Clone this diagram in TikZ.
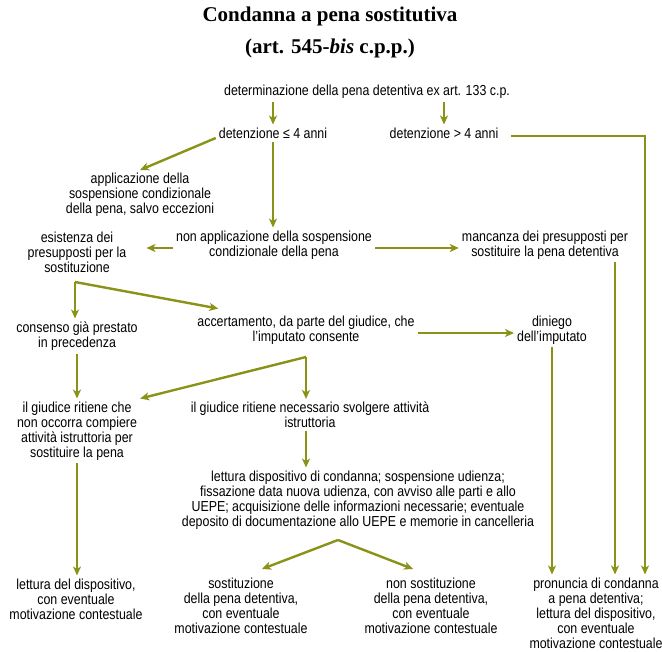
\documentclass[tikz,border=0pt]{standalone}
\usepackage{fontspec}
\setmainfont{Liberation Sans}[FakeStretch=0.855]
\newfontfamily\titlefont{Liberation Serif}
\usetikzlibrary{arrows.meta,calc}
\definecolor{ArrowGreen}{RGB}{138,146,24}

\begin{document}
\begin{tikzpicture}[
  txt/.style={align=center,inner sep=3bp,font=\fontsize{14.5bp}{15bp}\selectfont},
  ttl/.style={inner sep=0bp,font=\titlefont\bfseries\fontsize{21bp}{23bp}\selectfont},
  arr/.style={-{Stealth[length=9bp,width=8bp,inset=2.5bp]},line width=2.4bp,draw=ArrowGreen}]
\useasboundingbox (0bp,0bp) rectangle (662bp,-652bp);

\node (T1) at (330bp,-16bp)[ttl] {Condanna a pena sostitutiva};
\node (T2) at (330bp,-48bp)[ttl] {(art. 545-\textit{bis} c.p.p.)};

\node (det) at (367bp,-92bp)[txt] {determinazione della pena detentiva ex art. 133 c.p.};
\node (le4) at (273bp,-133bp)[txt] {detenzione ≤ 4 anni};
\node (gt4) at (444bp,-133bp)[txt] {detenzione > 4 anni};
\node (appl) at (140bp,-195bp)[txt] {applicazione della\\sospensione condizionale\\della pena, salvo eccezioni};
\node (nonappl) at (274bp,-245bp)[txt] {non applicazione della sospensione\\condizionale della pena};
\node (esist) at (77bp,-252bp)[txt] {esistenza dei\\presupposti per la\\sostituzione};
\node (manc) at (545bp,-245bp)[txt] {mancanza dei presupposti per\\sostituire la pena detentiva};
\node (cons) at (77bp,-336bp)[txt] {consenso già prestato\\in precedenza};
\node (acc) at (306bp,-330bp)[txt] {accertamento, da parte del giudice, che\\l'imputato consente};
\node (din) at (552bp,-330bp)[txt] {diniego\\dell'imputato};
\node (noocc) at (77bp,-431bp)[txt] {il giudice ritiene che\\non occorra compiere\\attività istruttoria per\\sostituire la pena};
\node (nec) at (310bp,-415bp)[txt] {il giudice ritiene necessario svolgere attività\\istruttoria};
\node (lett) at (358bp,-500bp)[txt] {lettura dispositivo di condanna; sospensione udienza;\\fissazione data nuova udienza, con avviso alle parti e allo\\UEPE; acquisizione delle informazioni necessarie; eventuale\\deposito di documentazione allo UEPE e memorie in cancelleria};
\node (lettd) at (76bp,-599bp)[txt] {lettura del dispositivo,\\con eventuale\\motivazione contestuale};
\node (sost) at (241bp,-606bp)[txt] {sostituzione\\della pena detentiva,\\con eventuale\\motivazione contestuale};
\node (nonsost) at (431bp,-606bp)[txt] {non sostituzione\\della pena detentiva,\\con eventuale\\motivazione contestuale};
\node (pron) at (596bp,-613bp)[txt] {pronuncia di condanna\\a pena detentiva;\\lettura del dispositivo,\\con eventuale\\motivazione contestuale};

% corners and branch points
\coordinate (rA) at (645bp,-136bp);
\coordinate (rB) at (615bp,0bp);
\coordinate (b1) at (75bp,-282bp);
\coordinate (b2) at (306bp,-357bp);
\coordinate (b3) at (338bp,-540bp);

\draw [arr] (det.south -| le4) -- (le4.north);
\draw [arr] (det.south -| gt4) -- (gt4.north);
\draw [arr] ([xshift=10bp]gt4.east |- rA) -- (rA) -- (rA |- pron.north);
\draw [arr] ([yshift=-5bp]le4.west) -- (appl.north);
\draw [arr] (le4.south) -- (le4.south |- nonappl.north);
\draw [arr,shorten >=17bp] ([yshift=-3bp]nonappl.west) -- ([yshift=-3bp]nonappl.west -| esist.east);
\draw [arr] ([yshift=-3bp]nonappl.east) -- ([yshift=-3bp]nonappl.east -| manc.west);
\draw [arr] (manc.south -| rB) -- (pron.north -| rB);
\draw [arr] (b1) -- (b1 |- cons.north);
\draw [arr] (b1) -- ($(acc.north west)+(24bp,4bp)$);
\draw [arr] ([yshift=-3bp]acc.east) -- ([yshift=-3bp]acc.east -| din.west);
\draw [arr] (din.south) -- (din.south |- pron.north);
\draw [arr] (cons.south) -- (cons.south |- noocc.north);
\draw [arr] (b2) -- (b2 |- nec.north);
\draw [arr] (b2) -- (noocc.north east);
\draw [arr] (b2 |- nec.south) -- (b2 |- lett.north);
\draw [arr] (noocc.south) -- (noocc.south |- lettd.north);
\draw [arr] (b3) -- ($(sost.north)+(21bp,6bp)$);
\draw [arr] (b3) -- ($(nonsost.north)+(-18bp,6bp)$);
\end{tikzpicture}
\end{document}
